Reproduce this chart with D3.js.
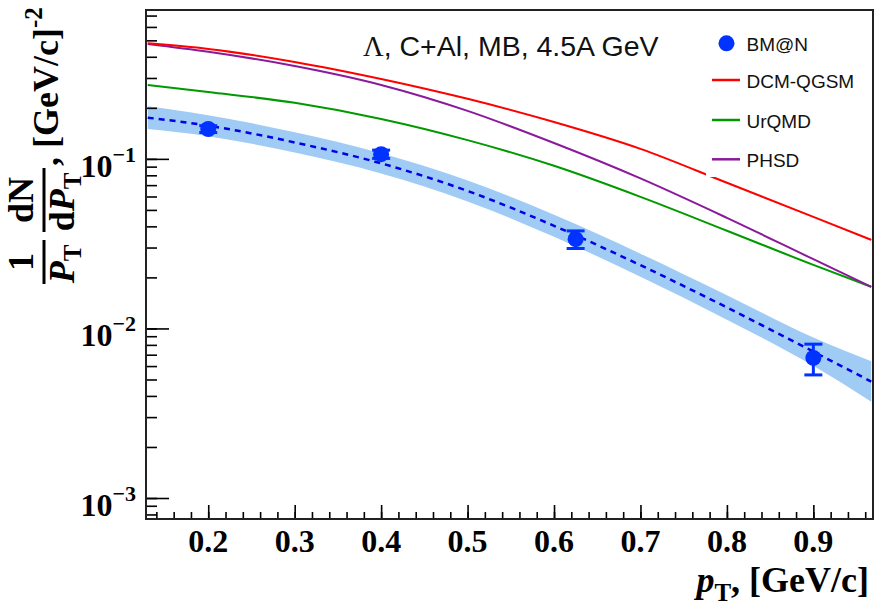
<!DOCTYPE html>
<meta charset="utf-8">
<style>
body { margin: 0; background: #fff; }
svg { display: block; }
.serif { font-family: "Liberation Serif", "Times New Roman", serif; font-weight: bold; }
.sans { font-family: "Liberation Sans", Arial, sans-serif; }
</style>
<svg width="877" height="608"></svg>
<script src="https://cdn.jsdelivr.net/npm/d3@7/dist/d3.min.js"></script>
<script>
// pT grid used for the model curves and the fit
var ptGrid   = [0.13, 0.2, 0.3, 0.4, 0.5, 0.6, 0.7, 0.8, 0.9, 0.967]
var dcmQgsm  = [0.48, 0.445, 0.373, 0.296, 0.226, 0.165, 0.1146, 0.0723, 0.0455, 0.0333]
var urqmd    = [0.273, 0.248, 0.214, 0.172, 0.129, 0.091, 0.0597, 0.0377, 0.0237, 0.0176]
var phsd     = [0.476, 0.428, 0.353, 0.273, 0.192, 0.124, 0.0767, 0.0449, 0.0256, 0.0176]
var fitLine  = [0.175, 0.157, 0.125, 0.0941, 0.0647, 0.0403, 0.0236, 0.0133, 0.0073, 0.00486]
var fitUpper = [0.204, 0.181, 0.1435, 0.108, 0.0746, 0.0468, 0.0276, 0.0157, 0.00885, 0.0064]
var fitLower = [0.150, 0.136, 0.1089, 0.082, 0.0561, 0.0347, 0.0202, 0.01127, 0.00602, 0.0037]

// BM@N data points
var bmnPt    = [0.2, 0.4, 0.625, 0.9]
var bmnYield = [0.15, 0.1066, 0.0336, 0.0067]
var bmnErr   = [0.007, 0.006, 0.004, 0.00138]

var xTickLabels = [0.2, 0.3, 0.4, 0.5, 0.6, 0.7, 0.8, 0.9]
var yTickPowers = [-1, -2, -3]

var legendNames  = ["BM@N", "DCM-QGSM", "UrQMD", "PHSD"]
var legendColors = ["#0033ff", "#ff0000", "#009900", "#8b1a9b"]

var plotL = 146, plotR = 873, plotT = 10, plotB = 519

var svg = d3.select("svg")

var x = d3.scaleLinear().domain([0.128, 0.969]).range([plotL, plotR])
var y = d3.scaleLog().domain([7.52e-4, 0.755]).range([plotB, plotT])

svg.append("clipPath").attr("id", "plot")
  .append("rect").attr("x", plotL).attr("y", plotT)
  .attr("width", plotR - plotL).attr("height", plotB - plotT)

var plot = svg.append("g").attr("clip-path", "url(#plot)")

// fit band
var band = d3.area()
  .x(function(d, i){ return x(ptGrid[i]) })
  .y0(function(d, i){ return y(fitLower[i]) })
  .y1(function(d, i){ return y(fitUpper[i]) })
  .curve(d3.curveMonotoneX)
plot.append("path").datum(ptGrid)
  .attr("d", band)
  .attr("fill", "#9fcbf4")

function curveOf(vals){
  return d3.line()
    .x(function(d, i){ return x(ptGrid[i]) })
    .y(function(d, i){ return y(vals[i]) })
    .curve(d3.curveMonotoneX)(vals)
}

plot.append("path").attr("d", curveOf(urqmd))
  .attr("fill", "none").attr("stroke", legendColors[2]).attr("stroke-width", 2)
plot.append("path").attr("d", curveOf(phsd))
  .attr("fill", "none").attr("stroke", legendColors[3]).attr("stroke-width", 2)
plot.append("path").attr("d", curveOf(dcmQgsm))
  .attr("fill", "none").attr("stroke", legendColors[1]).attr("stroke-width", 2)

plot.append("path").attr("d", curveOf(fitLine))
  .attr("fill", "none").attr("stroke", "#0000e6").attr("stroke-width", 2.5)
  .attr("stroke-dasharray", "6,5")

// data points
var pts = plot.append("g")
bmnPt.forEach(function(p, i){
  var cx = x(p), hi = y(bmnYield[i] + bmnErr[i]), lo = y(bmnYield[i] - bmnErr[i])
  pts.append("line").attr("x1", cx).attr("x2", cx).attr("y1", hi).attr("y2", lo)
    .attr("stroke", legendColors[0]).attr("stroke-width", 3)
  ;[hi, lo].forEach(function(yy){
    pts.append("line").attr("x1", cx - 9).attr("x2", cx + 9).attr("y1", yy).attr("y2", yy)
      .attr("stroke", legendColors[0]).attr("stroke-width", 3)
  })
  pts.append("circle").attr("cx", cx).attr("cy", y(bmnYield[i])).attr("r", 8)
    .attr("fill", legendColors[0])
})

// legend (white box hides the line it overlaps)
var leg = svg.append("g")
leg.append("rect").attr("x", 706).attr("y", 18).attr("width", 160).attr("height", 159)
  .attr("fill", "#fff")
var legY = [43.3, 80, 120, 159.3]
legendNames.forEach(function(name, i){
  if(i === 0)
    leg.append("circle").attr("cx", 726.5).attr("cy", legY[i]).attr("r", 8).attr("fill", legendColors[i])
  else
    leg.append("line").attr("x1", 712).attr("x2", 740).attr("y1", legY[i]).attr("y2", legY[i])
      .attr("stroke", legendColors[i]).attr("stroke-width", 2.5)
  leg.append("text").attr("class", "sans").attr("x", 746.5).attr("y", legY[i] + 7.5)
    .attr("font-size", 19).attr("fill", "#111").text(name)
})

// title
var title = svg.append("text").attr("class", "sans").attr("x", 363).attr("y", 56)
  .attr("font-size", 28.5).attr("fill", "#111")
title.append("tspan").attr("font-family", "Liberation Serif").text("\u039b")
title.append("tspan").text(", C+Al, MB, 4.5A GeV")

// axes: ticks point inward
var xMinor = x.ticks(40)
svg.append("g").attr("transform", "translate(0," + plotB + ")")
  .call(d3.axisBottom(x).tickValues(xMinor).tickSize(-7).tickFormat(""))
svg.append("g").attr("transform", "translate(0," + plotB + ")")
  .call(d3.axisBottom(x).tickValues(xTickLabels).tickSize(-14).tickFormat(""))
svg.append("g").attr("transform", "translate(" + plotL + ",0)")
  .call(d3.axisLeft(y).tickValues(y.ticks()).tickSize(-11).tickFormat(""))
svg.append("g").attr("transform", "translate(" + plotL + ",0)")
  .call(d3.axisLeft(y).tickValues(yTickPowers.map(function(p){ return Math.pow(10, p) })).tickSize(-23).tickFormat(""))
svg.selectAll(".domain").remove()
svg.selectAll(".tick line").attr("stroke", "#000").attr("stroke-width", 1.6)

// frame
svg.append("rect").attr("x", plotL).attr("y", plotT).attr("width", plotR - plotL).attr("height", plotB - plotT)
  .attr("fill", "none").attr("stroke", "#222").attr("stroke-width", 2)

// tick labels
xTickLabels.forEach(function(v){
  svg.append("text").attr("class", "serif").attr("x", x(v)).attr("y", 552)
    .attr("text-anchor", "middle").attr("font-size", 32).text(d3.format(".1f")(v))
})
yTickPowers.forEach(function(p){
  var t = svg.append("text").attr("class", "serif").attr("x", 136).attr("y", y(Math.pow(10, p)) + 18)
    .attr("text-anchor", "end").attr("font-size", 32)
  t.append("tspan").text("10")
  t.append("tspan").attr("dy", -15).attr("font-size", 22).text("\u2212" + (-p))
})

// x axis title
var xt = svg.append("text").attr("class", "serif").attr("x", 869).attr("y", 592)
  .attr("text-anchor", "end").attr("font-size", 36)
xt.append("tspan").attr("font-style", "italic").text("p")
xt.append("tspan").attr("dy", 9).attr("font-size", 25).text("T")
xt.append("tspan").attr("dy", -9).text(", [GeV/c]")

// y axis title, drawn in a rotated frame (local x = -screen y, local y = screen x)
var yt = svg.append("g").attr("class", "serif").attr("transform", "rotate(-90)")
yt.append("text").attr("x", -262).attr("y", 33).attr("text-anchor", "middle").attr("font-size", 36).text("1")
yt.append("line").attr("x1", -284).attr("x2", -240).attr("y1", 44).attr("y2", 44)
  .attr("stroke", "#000").attr("stroke-width", 3)
var pT1 = yt.append("text").attr("x", -264).attr("y", 74).attr("text-anchor", "middle").attr("font-size", 36)
pT1.append("tspan").attr("font-style", "italic").text("P")
pT1.append("tspan").attr("dy", 7).attr("font-size", 25).text("T")
yt.append("text").attr("x", -200).attr("y", 33).attr("text-anchor", "middle").attr("font-size", 36).text("dN")
yt.append("line").attr("x1", -232).attr("x2", -168).attr("y1", 44).attr("y2", 44)
  .attr("stroke", "#000").attr("stroke-width", 3)
var pT2 = yt.append("text").attr("x", -202).attr("y", 74).attr("text-anchor", "middle").attr("font-size", 36)
pT2.append("tspan").text("d")
pT2.append("tspan").attr("font-style", "italic").text("P")
pT2.append("tspan").attr("dy", 7).attr("font-size", 25).text("T")
var unit = yt.append("text").attr("x", -166).attr("y", 58).attr("font-size", 36)
unit.append("tspan").text(", [GeV/c]")
unit.append("tspan").attr("dy", -16).attr("font-size", 25).text("-2")
</script>
